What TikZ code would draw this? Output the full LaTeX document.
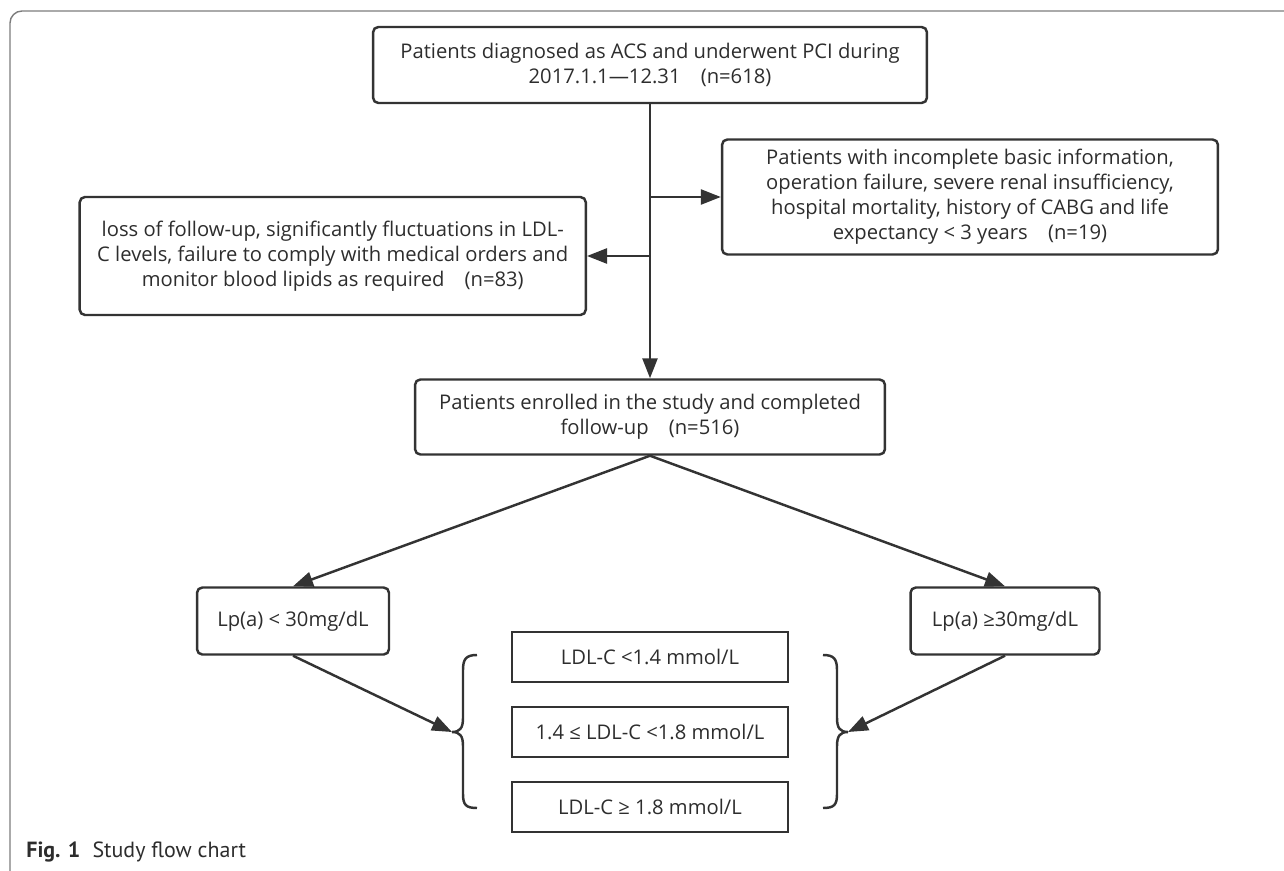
\documentclass[tikz,border=0pt]{standalone}
\usepackage{fontspec}
\setmainfont{Open Sans}
\newfontfamily\capfont{PT Sans}
\usepackage{tikz}
\usetikzlibrary{arrows.meta, positioning}
\definecolor{linegray}{RGB}{51, 51, 51}
\definecolor{framegray}{RGB}{125, 125, 125}
\definecolor{textgray}{RGB}{45, 45, 45}

\begin{document}
\begin{tikzpicture}[x=0.02cm, y=-0.02cm, >={Triangle[length=0.4cm, width=0.3cm]},
    every node/.style={font=\fontsize{11.5}{14.2}\selectfont, text=textgray},
    flowbox/.style={rectangle, rounded corners=3pt, draw=linegray, line width=1.4pt, align=center, inner sep=0pt},
    levelbox/.style={rectangle, draw=linegray, line width=1.4pt, align=center, inner sep=0pt, minimum width=5.52cm, minimum height=1cm},
    flowarrow/.style={->, draw=linegray, line width=1.4pt}]

\useasboundingbox (0,0) rectangle (1284,871);

% Frame
\draw[framegray, line width=0.8pt, rounded corners=0.24cm] (10,871) -- (10,11) -- (1284,11);

% Main boxes
\node[flowbox, minimum width=11.08cm, minimum height=1.52cm] at (650,65) (screened) {Patients diagnosed as ACS and underwent PCI during\\2017.1.1---12.31\quad(n=618)};
\node[flowbox, minimum width=9.92cm, minimum height=2.3cm] at (970,197) (exclA) {Patients with incomplete basic information,\\operation failure, severe renal insufficiency,\\hospital mortality, history of CABG and life\\expectancy < 3 years\quad(n=19)};
\node[flowbox, anchor=east, inner xsep=0.35cm, minimum height=2.36cm] at (587,256) (exclB) {loss of follow-up, significantly fluctuations in LDL-\\C levels, failure to comply with medical orders and\\monitor blood lipids as required\quad(n=83)};
\node[flowbox, minimum width=9.4cm, minimum height=1.5cm] at (650,417) (enrolled) {Patients enrolled in the study and completed\\follow-up\quad(n=516)};

% Lp(a) groups
\node[flowbox, minimum width=3.84cm, minimum height=1.34cm] at (293,621) (lplow) {Lp(a) < 30mg/dL};
\node[flowbox, minimum width=3.78cm, minimum height=1.34cm] at (1005,621) (lphigh) {Lp(a) ≥30mg/dL};

% LDL-C levels
\node[levelbox] at (650,657) (ldlA) {LDL-C <1.4 mmol/L};
\node[levelbox] at (650,732) (ldlB) {1.4 ≤ LDL-C <1.8 mmol/L};
\node[levelbox] at (650,807) (ldlC) {LDL-C ≥ 1.8 mmol/L};

% Braces
\coordinate (ltip) at (452,732);
\coordinate (rtip) at (848,732);
\draw[linegray, line width=1.4pt] (477,655) .. controls (466,655) and (463,659) .. (463,670) -- (463,718) .. controls (463,728) and (460,732) .. (ltip) .. controls (460,732) and (463,736) .. (463,746) -- (463,794) .. controls (463,805) and (466,808) .. (477,808);
\draw[linegray, line width=1.4pt] (823,655) .. controls (834,655) and (837,659) .. (837,670) -- (837,718) .. controls (837,728) and (840,732) .. (rtip) .. controls (840,732) and (837,736) .. (837,746) -- (837,794) .. controls (837,805) and (834,808) .. (823,808);

% Connections
\draw[flowarrow] (screened.south) -- (enrolled.north);
\draw[flowarrow] (screened.south |- exclA.west) -- (exclA.west);
\draw[flowarrow] (screened.south |- exclB.east) -- (exclB.east);
\draw[flowarrow] (enrolled.south) -- (lplow.north);
\draw[flowarrow] (enrolled.south) -- (lphigh.north);
\draw[flowarrow] (lplow.south) -- (ltip);
\draw[flowarrow] (lphigh.south) -- (rtip);

% Caption
\node[anchor=west, inner sep=0pt, font=\capfont\fontsize{12.5}{15}\selectfont] at (26,852) (caption) {\textbf{Fig. 1}\hspace{0.55em}Study flow chart};
\end{tikzpicture}
\end{document}
